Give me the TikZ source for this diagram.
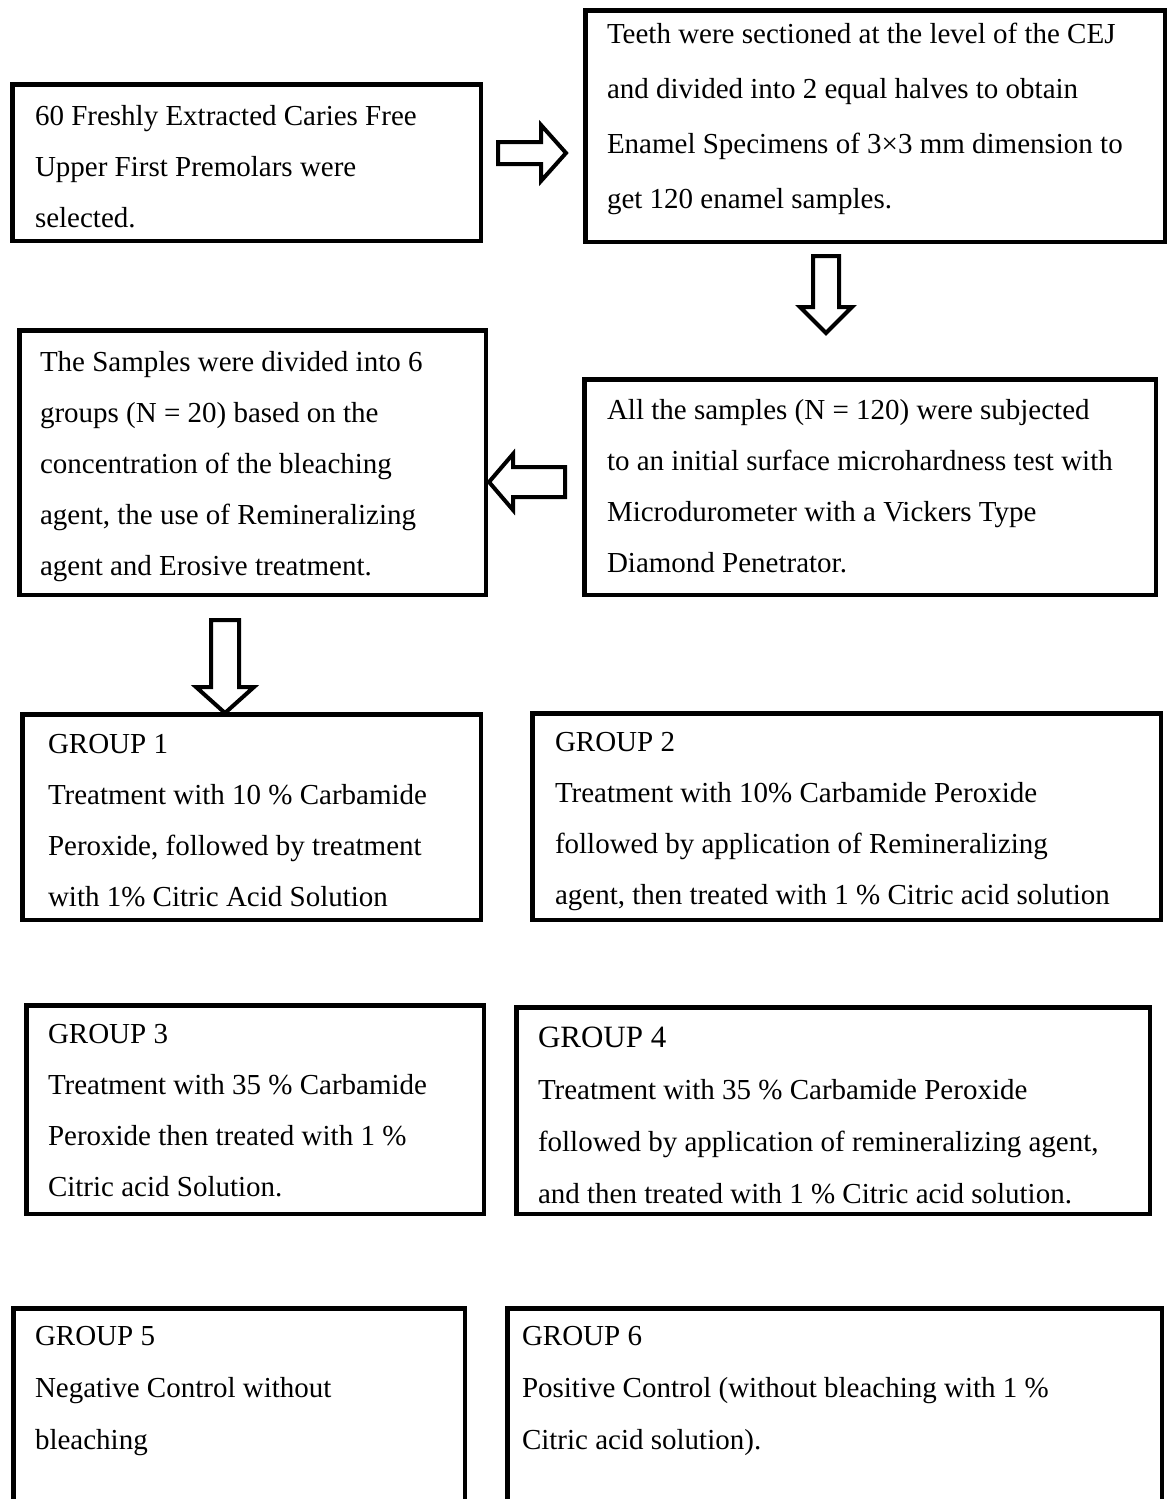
\documentclass[tikz,border=0pt]{standalone}
\usepackage{fontspec}
\setmainfont{Liberation Serif}
\usetikzlibrary{fit}
\begin{document}
\begin{tikzpicture}[x=1pt,y=-1pt,
  box/.style={draw=black, line width=4.5pt, inner sep=0pt, outer sep=0pt},
  txt/.style={anchor=north west, inner sep=0pt, outer sep=0pt, align=left,
    font=\fontsize{29}{51}\selectfont},
  barrow/.style={draw=black, fill=white, line width=4pt, line join=miter}]
\useasboundingbox (0,0) rectangle (1168,1499);
\clip (0,0) rectangle (1168,1499);
\fill[white] (0,0) rectangle (1168,1499);
\newcommand{\fs}{\rule{0pt}{26pt}}
% boxes (centerline corners)
\node[box, fit={(12.25,84.25) (480.75,240.75)}] (b1) {};
\node[box, fit={(585.25,10.25) (1164.75,241.75)}] (b2) {};
\node[box, fit={(19.25,330.25) (485.75,594.75)}] (b3) {};
\node[box, fit={(584.25,379.25) (1155.75,594.75)}] (b4) {};
\node[box, fit={(22.25,714.25) (480.75,919.75)}] (g1) {};
\node[box, fit={(532.25,713.25) (1160.75,919.75)}] (g2) {};
\node[box, fit={(26.25,1005.25) (483.75,1213.75)}] (g3) {};
\node[box, fit={(516.25,1007.25) (1149.75,1213.75)}] (g4) {};
\node[box, fit={(13.25,1308.25) (464.75,1530)}] (g5) {};
\node[box, fit={(507.25,1308.25) (1161.75,1530)}] (g6) {};
% texts
\node[txt, font=\fontsize{29}{51}\selectfont] (t1) at (35,99) {\fs 60 Freshly Extracted Caries Free\\Upper First Premolars were\\selected.};
\node[txt, font=\fontsize{29}{55}\selectfont] (t2) at (607,17) {\fs Teeth were sectioned at the level of the CEJ\\and divided into 2 equal halves to obtain\\Enamel Specimens of 3×3 mm dimension to\\get 120 enamel samples.};
\node[txt] (t3) at (40,345) {\fs The Samples were divided into 6\\groups (N = 20) based on the\\concentration of the bleaching\\agent, the use of Remineralizing\\agent and Erosive treatment.};
\node[txt] (t4) at (607,393) {\fs All the samples (N = 120) were subjected\\to an initial surface microhardness test with\\Microdurometer with a Vickers Type\\Diamond Penetrator.};
\node[txt] (tg1) at (48,727) {\fs GROUP 1\\Treatment with 10 \% Carbamide\\Peroxide, followed by treatment\\with 1\% Citric Acid Solution};
\node[txt] (tg2) at (555,725) {\fs GROUP 2\\Treatment with 10\% Carbamide Peroxide\\followed by application of Remineralizing\\agent, then treated with 1 \% Citric acid solution};
\node[txt] (tg3) at (48,1017) {\fs GROUP 3\\Treatment with 35 \% Carbamide\\Peroxide then treated with 1 \%\\Citric acid Solution.};
\node[txt, font=\fontsize{29}{52}\selectfont] (tg4) at (538,1021) {\fs{\fontsize{31}{52}\selectfont GROUP 4}\\Treatment with 35 \% Carbamide Peroxide\\followed by application of remineralizing agent,\\and then treated with 1 \% Citric acid solution.};
\node[txt, font=\fontsize{29}{52}\selectfont] (tg5) at (35,1319) {\fs GROUP 5\\Negative Control without\\bleaching};
\node[txt, font=\fontsize{29}{52}\selectfont] (tg6) at (522,1319) {\fs GROUP 6\\Positive Control (without bleaching with 1 \%\\Citric acid solution).};
% block arrows
\draw[barrow] (498,142)--(541,142)--(541,125)--(566,153)--(541,181)--(541,164)--(498,164)--cycle;
\draw[barrow] (813,256)--(839,256)--(839,307)--(852,307)--(826,333)--(800,307)--(813,307)--cycle;
\draw[barrow] (565,467)--(513,467)--(513,454)--(489,482)--(513,510)--(513,497)--(565,497)--cycle;
\draw[barrow] (211,620)--(239,620)--(239,687)--(254,687)--(225,713)--(196,687)--(211,687)--cycle;
\end{tikzpicture}
\end{document}
